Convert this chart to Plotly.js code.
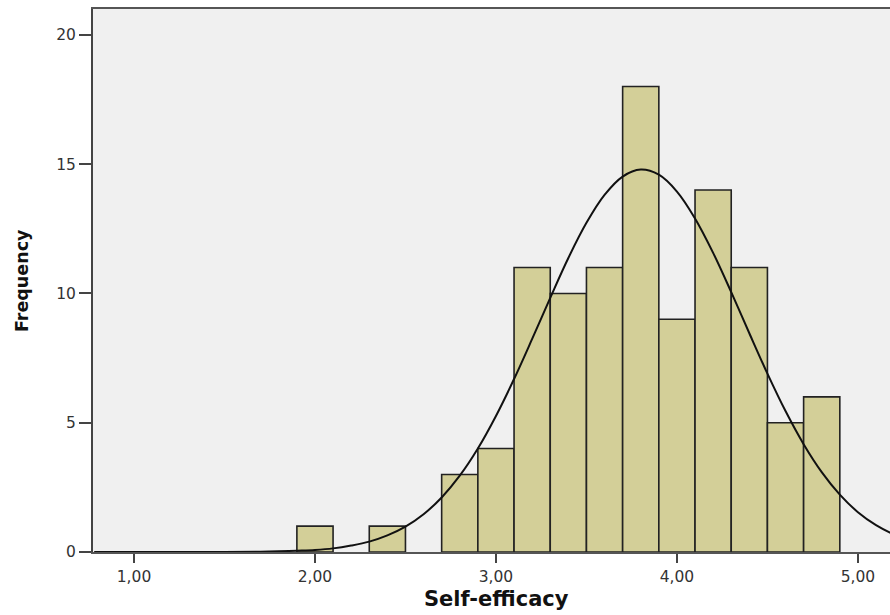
<!DOCTYPE html>
<html>
<head>
<meta charset="utf-8">
<script src="https://cdn.plot.ly/plotly-3.0.1.min.js"></script>
<style>
html,body{margin:0;padding:0;overflow:hidden;background:#fff;}
#chart{width:900px;height:615px;}
</style>
</head>
<body>
<div id="chart"></div>
<script>
// Histogram bins (centres, bin width 0.2) and frequencies
const binCenters = [2.0, 2.4, 2.8, 3.0, 3.2, 3.4, 3.6, 3.8, 4.0, 4.2, 4.4, 4.6, 4.8];
const frequencies = [1, 1, 3, 4, 11, 10, 11, 18, 9, 14, 11, 5, 6];
const binWidth = 0.2;

// Normal curve, heights
const curveX = [0.78, 1.2, 1.5, 1.7, 1.8, 1.9, 2.0, 2.1, 2.2, 2.3, 2.4, 2.5, 2.6, 2.7, 2.8, 2.9, 3.0, 3.1, 3.2, 3.3, 3.4, 3.5, 3.6, 3.7, 3.8, 3.9, 4.0, 4.1, 4.2, 4.3, 4.4, 4.5, 4.6, 4.7, 4.8, 4.9, 5.0, 5.1, 5.2, 5.3];
const curveY = [0, 0, 0.003, 0.01, 0.025, 0.05, 0.08, 0.14, 0.25, 0.40, 0.64, 0.98, 1.46, 2.11, 2.95, 4.00, 5.26, 6.69, 8.24, 9.83, 11.37, 12.73, 13.81, 14.52, 14.79, 14.59, 13.94, 12.90, 11.57, 10.05, 8.46, 6.90, 5.45, 4.17, 3.09, 2.22, 1.54, 1.04, 0.68, 0.43];

const xTickVals = [1, 2, 3, 4, 5];
const xTickText = ["1,00", "2,00", "3,00", "4,00", "5,00"];
const yTickVals = [0, 5, 10, 15, 20];
const yTickText = ["0", "5", "10", "15", "20"];

const bars = {
  type: 'bar',
  x: binCenters,
  y: frequencies,
  width: binCenters.map(() => binWidth),
  marker: {color: '#D3CF98', line: {color: '#222222', width: 1.6}},
  hoverinfo: 'skip',
  showlegend: false
};

const curve = {
  type: 'scatter',
  mode: 'lines',
  x: curveX,
  y: curveY,
  line: {color: '#111111', width: 2, shape: 'spline', smoothing: 1},
  hoverinfo: 'skip',
  showlegend: false
};

const tickFont = {family: 'DejaVu Sans, Arial, sans-serif', size: 15.5, color: '#333333'};

const layout = {
  width: 900,
  height: 615,
  margin: {l: 93, r: 1, t: 9, b: 63, pad: 0},
  paper_bgcolor: '#ffffff',
  plot_bgcolor: '#F0F0F0',
  bargap: 0,
  xaxis: {
    range: [0.7735, 5.227],
    tickmode: 'array',
    tickvals: xTickVals,
    ticktext: xTickText,
    ticks: 'outside',
    ticklen: 9,
    tickwidth: 2,
    tickcolor: '#444',
    tickfont: tickFont,
    showgrid: false,
    zeroline: false,
    showline: true,
    linecolor: '#555',
    linewidth: 2,
    mirror: true
  },
  yaxis: {
    range: [0, 21.0],
    tickmode: 'array',
    tickvals: yTickVals,
    ticktext: yTickText,
    ticks: 'outside',
    ticklen: 12,
    tickwidth: 2,
    tickcolor: '#444',
    tickfont: tickFont,
    showgrid: false,
    zeroline: false,
    showline: true,
    linecolor: '#444',
    linewidth: 2,
    mirror: true
  },
  annotations: [
    {
      text: '<b>Self-efficacy</b>',
      xref: 'paper', yref: 'paper',
      x: 0.5, y: -0.0865,
      xanchor: 'center', yanchor: 'middle',
      showarrow: false,
      font: {family: 'DejaVu Sans, Arial, sans-serif', size: 21, color: '#111'}
    },
    {
      text: '<b>Frequency</b>',
      xref: 'paper', yref: 'paper',
      x: -0.0887, y: 0.5,
      xanchor: 'center', yanchor: 'middle',
      textangle: -90,
      showarrow: false,
      font: {family: 'DejaVu Sans, Arial, sans-serif', size: 17.5, color: '#111'}
    }
  ]
};

Plotly.newPlot('chart', [bars, curve], layout, {displayModeBar: false, staticPlot: true});
</script>
</body>
</html>
